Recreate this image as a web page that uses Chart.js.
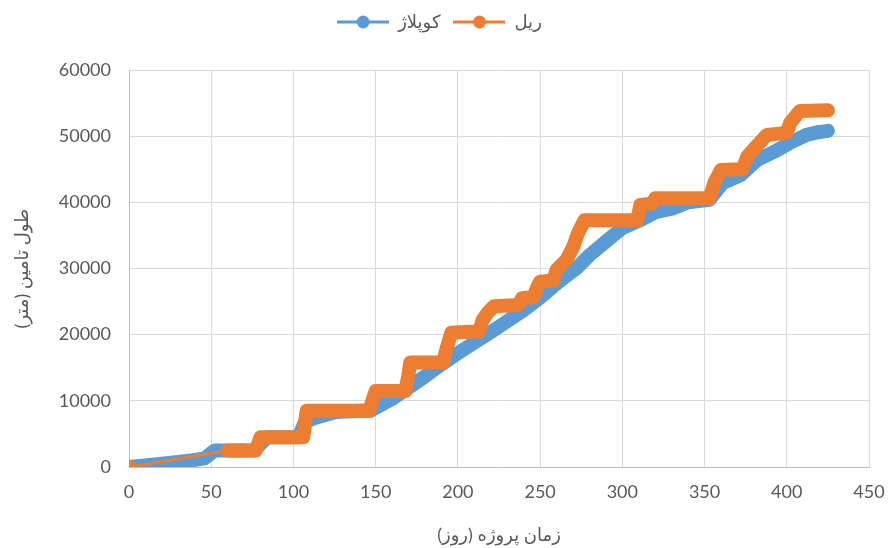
<!DOCTYPE html>
<html>
<head>
<meta charset="utf-8">
<script src="https://cdn.jsdelivr.net/npm/chart.js@4"></script>
<style>
    html, body { margin: 0; padding: 0; background: #fff; }
    #wrap { width: 889px; height: 548px; }
</style>
</head>
<body>
<div id="wrap"><canvas id="chart"></canvas></div>
<script>
// series names as in the legend
const seriesNames = ['کوپلاژ', 'ریل'];

// کوپلاژ (blue) - day / length in metres
const copDays = [0, 20, 38, 46, 52, 76, 84, 103, 107, 114, 126, 141, 147, 160, 170, 180, 190, 200, 210, 220,
    228, 240, 250, 258, 265, 272, 280, 291, 300, 311, 320, 331, 340, 353, 361, 372, 382, 392, 402, 412, 419, 425];
const copLen = [0, 500, 1000, 1300, 2500, 2500, 4500, 4500, 6800, 7500, 8300, 8500, 8500, 10300, 12000, 13700, 15500, 17200, 18800, 20400,
    21700, 23700, 25600, 27300, 28700, 30000, 32000, 34300, 36100, 37300, 38500, 39100, 40000, 40400, 42900, 44100, 46400, 47600, 49000, 50200, 50600, 50800];

// ریل (orange) - stepwise
const railDays = [0, 60, 77, 80, 106, 107, 108, 146, 148, 150, 168, 170, 171, 191, 193, 196, 213, 215, 218, 222,
    237, 239, 246, 248, 250, 258, 260, 266, 270, 273, 277, 309, 311, 318, 320, 353, 356, 360, 373, 376, 382, 388, 400, 402, 408, 425];
const railLen = [0, 2500, 2500, 4500, 4500, 6500, 8500, 8500, 10000, 11500, 11500, 14000, 15800, 15800, 17800, 20300, 20500, 22200, 23300, 24300,
    24500, 25500, 25700, 27000, 28000, 28200, 29800, 31300, 33200, 35300, 37300, 37300, 39600, 39800, 40600, 40600, 43000, 44900, 45000, 46900, 48600, 50200, 50500, 52000, 53800, 53900];

const xTicks = [0, 50, 100, 150, 200, 250, 300, 350, 400, 450];
const yTicks = [0, 10000, 20000, 30000, 40000, 50000, 60000];

const xTitle = 'زمان پروژه (روز)';
const yTitle = 'طول تامین (متر)';

const BLUE = '#5B9BD5';
const ORANGE = '#ED7D31';
const TEXT = '#595959';
const FONT = "Lato, 'DejaVu Sans', sans-serif";
const BAND = 14;

function toPoints(days, vals) {
    return days.map((d, i) => ({ x: d, y: vals[i] }));
}

// little line-with-marker icon for the legend
function legendIcon(color) {
    const c = document.createElement('canvas');
    c.width = 52;
    c.height = 14;
    const g = c.getContext('2d');
    g.strokeStyle = color;
    g.lineWidth = 3;
    g.beginPath();
    g.moveTo(0, 7);
    g.lineTo(52, 7);
    g.stroke();
    g.fillStyle = color;
    g.beginPath();
    g.arc(26, 7, 6.5, 0, Math.PI * 2);
    g.fill();
    return c;
}

// legend box is made taller so the plot starts lower
const legendHeight = {
    id: 'legendHeight',
    beforeLayout(chart) {
        const lg = chart.legend;
        if (lg && !lg._fixedH) {
            const fit = lg.fit.bind(lg);
            lg.fit = function () { fit(); this.height = 70; };
            lg._fixedH = true;
        }
    }
};

const ctx = document.getElementById('chart').getContext('2d');
new Chart(ctx, {
    type: 'line',
    data: {
        datasets: [
            {
                label: seriesNames[1],
                data: toPoints(railDays, railLen),
                borderColor: ORANGE,
                backgroundColor: ORANGE,
                borderWidth: BAND,
                borderCapStyle: 'round',
                borderJoinStyle: 'round',
                pointRadius: c => c.dataIndex === 0 ? 7 : 0,
                pointBorderWidth: 0,
                pointBackgroundColor: ORANGE,
                tension: 0,
                segment: {
                    borderWidth: c => c.p0DataIndex === 0 ? 3 : BAND
                }
            },
            {
                label: seriesNames[0],
                data: toPoints(copDays, copLen),
                borderColor: BLUE,
                backgroundColor: BLUE,
                borderWidth: BAND,
                borderCapStyle: 'round',
                borderJoinStyle: 'round',
                pointRadius: 0,
                tension: 0
            }
        ]
    },
    options: {
        responsive: true,
        maintainAspectRatio: false,
        animation: false,
        layout: { padding: { left: 10, right: 20, top: 0, bottom: 0 } },
        plugins: {
            tooltip: { enabled: false },
            legend: {
                position: 'top',
                reverse: true,
                labels: {
                    usePointStyle: true,
                    pointStyleWidth: 52,
                    padding: 13,
                    color: TEXT,
                    font: { family: FONT, size: 18 },
                    generateLabels(chart) {
                        const items = Chart.defaults.plugins.legend.labels.generateLabels(chart);
                        items.forEach(it => {
                            it.pointStyle = legendIcon(chart.data.datasets[it.datasetIndex].borderColor);
                        });
                        return items;
                    }
                }
            }
        },
        scales: {
            x: {
                type: 'linear',
                min: 0,
                max: 450,
                afterBuildTicks: s => { s.ticks = xTicks.map(v => ({ value: v })); },
                afterFit: s => { s.height = 81; s.paddingRight = 0; s.paddingLeft = 0; },
                grid: { color: '#d9d9d9', lineWidth: 1, drawTicks: false },
                border: { color: '#bfbfbf', width: 1 },
                ticks: {
                    autoSkip: false,
                    maxRotation: 0,
                    padding: 14,
                    color: TEXT,
                    font: { family: FONT, size: 18 },
                    callback: v => String(v)
                },
                title: {
                    display: true,
                    text: xTitle,
                    color: TEXT,
                    font: { family: FONT, size: 18 },
                    padding: { top: 0, bottom: 2 }
                }
            },
            y: {
                min: 0,
                max: 60000,
                afterBuildTicks: s => { s.ticks = yTicks.map(v => ({ value: v })); },
                afterFit: s => { s.width = 119; },
                grid: { color: '#d9d9d9', lineWidth: 1, drawTicks: false },
                border: { color: '#bfbfbf', width: 1 },
                ticks: {
                    padding: 18,
                    color: TEXT,
                    font: { family: FONT, size: 18 },
                    callback: v => String(v)
                },
                title: {
                    display: true,
                    text: yTitle,
                    color: TEXT,
                    font: { family: FONT, size: 18 },
                    padding: { top: 1, bottom: 0 }
                }
            }
        }
    },
    plugins: [legendHeight]
});
</script>
</body>
</html>
